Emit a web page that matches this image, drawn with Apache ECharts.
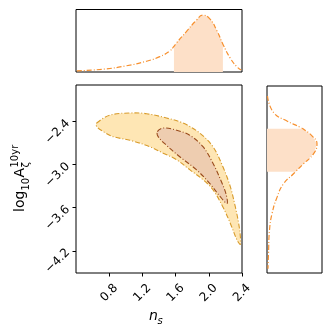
<!DOCTYPE html>
<html>
<head>
<meta charset="utf-8">
<script src="https://cdn.jsdelivr.net/npm/echarts@6/dist/echarts.min.js"></script>
<style>
  html, body { margin: 0; padding: 0; background: #fff; }
  #chart { width: 332px; height: 332px; }
</style>
</head>
<body>
<div id="chart"></div>
<script>
// x ticks / y ticks of the main panel
var nsTicks = [0.8, 1.2, 1.6, 2.0, 2.4];
var logATicks = [-4.2, -3.6, -3.0, -2.4];

// top marginal: n_s posterior
var topNs = [0.41, 0.73, 1.01, 1.25, 1.41, 1.53, 1.58, 1.61, 1.73, 1.85, 1.93, 2.01, 2.10, 2.17, 2.26, 2.34, 2.39];
var topDens = [0.02, 0.05, 0.11, 0.19, 0.27, 0.37, 0.45, 0.51, 0.71, 0.91, 1.0, 0.94, 0.72, 0.49, 0.24, 0.09, 0.035];
var topBand = [1.58, 2.17];

// right marginal: log10 A posterior
var rightA = [-2.03, -2.26, -2.38, -2.47, -2.49, -2.59, -2.70, -2.84, -2.98, -3.09, -3.12, -3.26, -3.45, -3.68, -3.91, -4.24, -4.45];
var rightDens = [0.01, 0.13, 0.40, 0.67, 0.72, 0.90, 1.0, 0.93, 0.73, 0.57, 0.53, 0.33, 0.20, 0.10, 0.05, 0.03, 0.02];
var rightBand = [-3.09, -2.49];

// 2D credible contours [n_s, log10 A]
var outerNs = [0.65, 0.81, 1.05, 1.25, 1.49, 1.69, 1.89, 2.05, 2.17, 2.26, 2.32, 2.36, 2.38, 2.38, 2.34, 2.26, 2.17, 2.05, 1.93, 1.77, 1.61, 1.45, 1.29, 1.05, 0.85, 0.73, 0.65];
var outerA = [-2.42, -2.31, -2.28, -2.29, -2.35, -2.42, -2.56, -2.75, -3.03, -3.31, -3.59, -3.82, -4.00, -4.11, -4.05, -3.82, -3.59, -3.35, -3.21, -3.07, -2.93, -2.84, -2.75, -2.66, -2.61, -2.54, -2.47];
var innerNs = [1.38, 1.45, 1.61, 1.77, 1.93, 2.05, 2.16, 2.21, 2.22, 2.14, 2.01, 1.85, 1.65, 1.49, 1.39];
var innerA = [-2.54, -2.49, -2.52, -2.59, -2.75, -2.98, -3.26, -3.42, -3.54, -3.45, -3.26, -3.07, -2.89, -2.73, -2.61];

var nsRange = [0.4, 2.4];
var aRange = [-4.51, -1.89];

function zip(a, b) {
  return a.map(function (v, i) { return [v, b[i]]; });
}
function fmt(v) {
  return v.toFixed(1).replace('-', '\u2212');
}

var dashDot = [5, 2, 1, 2];

function contour(pts, fill, stroke) {
  return {
    type: 'custom',
    xAxisIndex: 0,
    yAxisIndex: 0,
    clip: true,
    data: pts,
    renderItem: function (params, api) {
      if (params.dataIndex !== 0) return null;
      var p = pts.map(function (d) { return api.coord(d); });
      return {
        type: 'polygon',
        shape: { points: p, smooth: 0.35 },
        style: { fill: fill, stroke: stroke, lineWidth: 1.1, lineDash: dashDot }
      };
    }
  };
}

var topPts = zip(topNs, topDens);
var rightPts = zip(rightDens, rightA);

var font = 'DejaVu Sans';
var noAxis = {
  axisLine: { show: false },
  axisTick: { show: false },
  axisLabel: { show: false },
  splitLine: { show: false }
};

var option = {
  animation: false,
  grid: [
    { left: 76, top: 85, width: 166, height: 188, show: true, borderColor: '#000', borderWidth: 1 },
    { left: 76, top: 9.5, width: 166, height: 62.5, show: true, borderColor: '#000', borderWidth: 1 },
    { left: 267, top: 86, width: 55, height: 187, show: true, borderColor: '#000', borderWidth: 1 }
  ],
  xAxis: [
    {
      gridIndex: 0, type: 'value', min: nsRange[0], max: nsRange[1],
      axisLine: { show: false },
      axisTick: { show: true, customValues: nsTicks, length: 3.5, lineStyle: { color: '#000' } },
      axisLabel: {
        customValues: nsTicks, rotate: 45, margin: 20, align: 'center', verticalAlign: 'middle',
        color: '#000', fontSize: 12, fontFamily: font,
        formatter: fmt
      },
      splitLine: { show: false }
    },
    Object.assign({ gridIndex: 1, type: 'value', min: nsRange[0], max: nsRange[1] }, noAxis),
    Object.assign({ gridIndex: 2, type: 'value', min: 0, max: 1.1 }, noAxis)
  ],
  yAxis: [
    {
      gridIndex: 0, type: 'value', min: aRange[0], max: aRange[1],
      axisLine: { show: false },
      axisTick: { show: true, customValues: logATicks, length: 3.5, lineStyle: { color: '#000' } },
      axisLabel: {
        customValues: logATicks, rotate: 45, margin: 8, color: '#000', fontSize: 12, fontFamily: font,
        formatter: fmt
      },
      splitLine: { show: false }
    },
    Object.assign({ gridIndex: 1, type: 'value', min: 0, max: 1.1 }, noAxis),
    Object.assign({ gridIndex: 2, type: 'value', min: aRange[0], max: aRange[1] }, noAxis)
  ],
  series: [
    contour(zip(outerNs, outerA), '#fee6b4', '#d89b2b'),
    contour(zip(innerNs, innerA), '#eecdb0', '#9a4b1c'),
    {
      // shaded 68% band, top marginal
      type: 'line',
      xAxisIndex: 1, yAxisIndex: 1,
      data: topPts.filter(function (d) { return d[0] >= topBand[0] && d[0] <= topBand[1]; }),
      smooth: true, symbol: 'none',
      lineStyle: { width: 0 },
      areaStyle: { color: '#fde0c8', opacity: 1 }
    },
    {
      type: 'line',
      xAxisIndex: 1, yAxisIndex: 1,
      data: topPts,
      smooth: true, symbol: 'none',
      lineStyle: { color: '#f7902e', width: 1.2, type: dashDot }
    },
    {
      // shaded 68% band, right marginal
      type: 'custom',
      xAxisIndex: 2, yAxisIndex: 2,
      data: rightPts,
      renderItem: function (params, api) {
        if (params.dataIndex !== 0) return null;
        var band = rightPts.filter(function (d) { return d[1] >= rightBand[0] && d[1] <= rightBand[1]; });
        var p = band.map(function (d) { return api.coord(d); });
        p.push(api.coord([0, band[band.length - 1][1]]));
        p.push(api.coord([0, band[0][1]]));
        return { type: 'polygon', shape: { points: p }, style: { fill: '#fde0c8' } };
      }
    },
    {
      type: 'line',
      xAxisIndex: 2, yAxisIndex: 2,
      data: rightPts,
      smooth: true, symbol: 'none',
      lineStyle: { color: '#f7902e', width: 1.2, type: dashDot }
    }
  ],
  graphic: [
    {
      type: 'group', x: 149, y: 323.5,
      children: [
        { type: 'text', x: 0, y: 0, style: { text: 'n', font: 'italic 14px "DejaVu Sans"', fill: '#000', verticalAlign: 'bottom' } },
        { type: 'text', x: 8.5, y: 3, style: { text: 's', font: 'italic 10px "DejaVu Sans"', fill: '#000', verticalAlign: 'bottom' } }
      ]
    },
    {
      type: 'group', x: 27.5, y: 212, rotation: Math.PI / 2,
      children: [
        { type: 'text', x: 0, y: 0, style: { text: 'log', font: '14px "DejaVu Sans"', fill: '#000', verticalAlign: 'bottom' } },
        { type: 'text', x: 21.4, y: 3.5, style: { text: '10', font: '10px "DejaVu Sans"', fill: '#000', verticalAlign: 'bottom' } },
        { type: 'text', x: 34.5, y: 0, style: { text: 'A', font: '14px "DejaVu Sans"', fill: '#000', verticalAlign: 'bottom' } },
        { type: 'text', x: 44.5, y: 3.5, style: { text: '\u03b6', font: '10px "DejaVu Sans"', fill: '#000', verticalAlign: 'bottom' } },
        { type: 'text', x: 44.5, y: -7, style: { text: '10yr', font: '10px "DejaVu Sans"', fill: '#000', verticalAlign: 'bottom' } }
      ]
    }
  ]
};

var myChart = echarts.init(document.getElementById('chart'));
myChart.setOption(option);
</script>
</body>
</html>
